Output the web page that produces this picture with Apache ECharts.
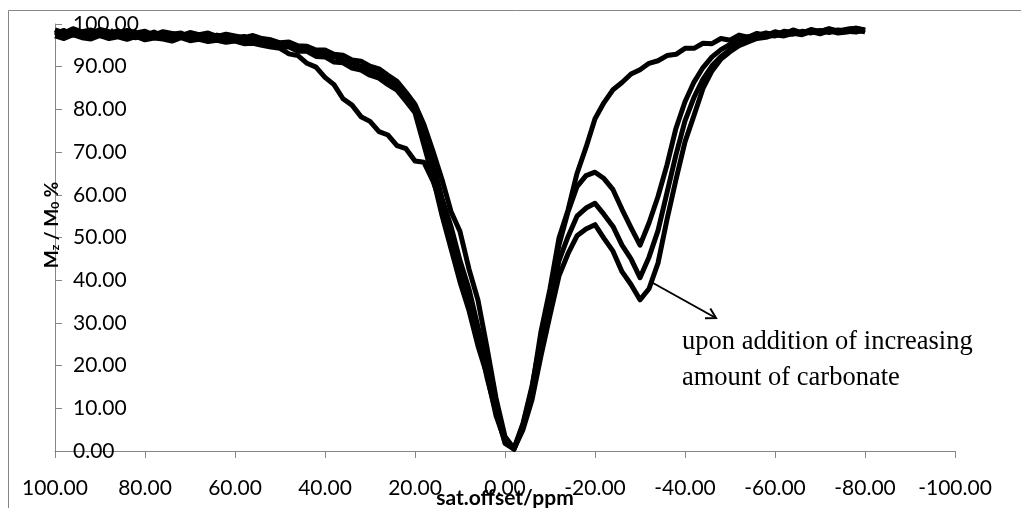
<!DOCTYPE html>
<html>
<head>
<meta charset="utf-8">
<script src="https://cdn.jsdelivr.net/npm/echarts@6/dist/echarts.min.js"></script>
<style>
html,body{margin:0;padding:0;background:#fff;}
#chart{width:1021px;height:508px;}
</style>
</head>
<body>
<div id="chart"></div>
<script>
// saturation offset (ppm)
var ppm = [100,98,96,94,92,90,88,86,84,82,80,78,76,74,72,70,68,66,64,62,60,58,56,54,
52,50,48,46,44,42,40,38,36,34,32,30,28,26,24,22,
20,18,16,14,12,10,8,6,4,2,0,-2,
-4,-6,-8,-10,-12,-14,-16,-18,-20,-22,-24,-26,-28,-30,
-32,-34,-36,-38,-40,-42,-44,-46,-48,-50,
-52,-54,-56,-58,-60,-62,-64,-66,-68,-70,-72,-74,-76,-78,-80];

// Mz/M0 (%) for each spectrum
var seriesB = [98.6,97.9,98.9,98.1,97.7,98.7,98.2,97.6,98.5,97.9,98.3,97.4,98.2,97.8,97.3,98.0,97.5,97.9,97.1,97.6,97.2,96.8,97.3,96.6,
96.3,95.6,95.8,94.9,94.8,93.9,93.9,92.9,92.7,91.6,91.3,90.1,89.5,88.0,86.6,84.0,
81.2,76.4,70.2,63.6,56.1,51.4,42.6,35.3,24.2,12.4,3.4,0.6,
6.5,15.2,26.4,37.0,48.3,56.0,61.9,64.5,65.3,63.8,61.2,56.6,52.3,48.2,
53.4,59.6,67.0,75.6,81.8,86.4,89.8,92.3,94.0,95.2,
96.2,97.0,97.3,97.9,97.4,98.3,98.0,97.8,98.6,98.2,98.8,98.1,98.7,99.0,98.5];

var seriesC = [97.8,98.5,97.4,98.2,98.6,97.5,97.9,98.4,97.3,98.0,97.4,98.1,97.2,97.6,97.9,96.9,97.5,96.9,97.4,96.8,96.7,97.1,96.3,96.5,
95.9,95.5,94.9,94.6,93.9,93.5,92.8,92.4,91.5,90.9,90.1,89.2,88.3,87.0,85.4,83.2,
79.6,74.3,67.5,59.2,52.6,44.6,37.9,29.0,20.8,9.8,2.6,0.5,
5.6,13.2,24.5,34.2,44.6,50.2,55.0,56.9,58.0,55.4,52.6,48.2,45.0,40.6,
45.4,51.6,60.5,69.4,77.3,82.8,87.1,90.2,92.4,94.0,
95.3,96.3,96.8,97.4,97.2,97.9,97.6,98.3,97.9,98.5,98.0,98.6,98.3,98.1,98.7];

var seriesD = [98.1,97.2,97.8,97.0,97.6,97.3,96.9,97.7,97.1,96.8,97.5,96.9,97.3,96.6,97.2,96.7,96.4,97.0,96.3,96.6,96.1,96.5,95.9,95.8,
95.5,94.6,94.6,93.6,93.6,92.4,92.3,91.1,90.9,89.7,89.2,88.0,87.3,85.8,84.5,81.9,
79.2,71.6,64.0,55.2,47.4,39.6,32.9,24.6,17.8,8.3,2.4,0.5,
5.0,12.0,22.3,31.8,41.0,46.2,50.4,52.0,53.0,49.8,46.8,42.0,39.0,35.4,
38.0,44.0,54.2,63.6,72.4,78.6,84.9,89.0,91.8,93.5,
94.9,95.8,96.6,96.9,97.5,97.2,97.8,97.5,98.2,97.7,98.4,97.9,98.1,98.5,98.2];

var seriesE = [97.2,96.6,97.5,96.8,96.5,97.3,96.6,97.0,96.4,97.1,96.3,96.7,96.5,96.0,96.8,96.1,96.4,95.9,96.2,95.7,96.0,95.4,95.5,95.0,
94.6,94.3,93.0,92.6,90.8,89.9,87.5,85.8,82.5,81.0,78.3,77.2,74.8,74.0,71.5,70.8,
67.9,67.6,63.2,57.4,48.8,42.4,34.2,27.3,17.2,9.1,1.8,0.4,
6.2,14.6,28.0,38.0,49.9,56.4,65.0,71.1,77.8,81.6,84.6,86.3,88.3,89.3,
90.8,91.4,92.6,92.9,94.3,94.3,95.5,95.4,96.6,96.2,
97.4,96.9,97.8,97.3,98.2,97.6,98.6,97.9,98.7,98.2,98.9,98.4,98.8,99.0,98.6];

var allSeries = [seriesE, seriesD, seriesC, seriesB];

var chart = echarts.init(document.getElementById('chart'), null, {renderer: 'canvas'});

function pairs(ys) {
  return ppm.map(function (x, i) { return [x, ys[i]]; });
}

var axisFont = 'Lato, "Open Sans", sans-serif';
var gray = '#868686';

var option = {
  animation: false,
  backgroundColor: '#ffffff',
  grid: {left: 55, top: 24, width: 900, height: 427, containLabel: false, outerBoundsMode: 'none'},
  xAxis: {
    type: 'value', min: -100, max: 100, interval: 20, inverse: true,
    axisLine: {onZero: false, lineStyle: {color: gray, width: 1}},
    axisTick: {show: true, inside: false, length: 7, lineStyle: {color: gray}},
    splitLine: {show: false},
    axisLabel: {color: '#000', fontFamily: axisFont, fontSize: 21, margin: 27,
      formatter: function (v) { return v.toFixed(2); }},
    name: 'sat.offset/ppm', nameLocation: 'middle', nameGap: 37, nameMoveOverlap: false,
    nameTextStyle: {color: '#000', fontFamily: axisFont, fontWeight: 'bold', fontSize: 21}
  },
  yAxis: {
    type: 'value', min: 0, max: 100, interval: 10,
    axisLine: {show: true, onZero: false, lineStyle: {color: gray, width: 1}},
    axisTick: {show: true, inside: true, length: 7, lineStyle: {color: gray}},
    splitLine: {show: false},
    axisLabel: {inside: true, margin: 18, color: '#000', fontFamily: axisFont, fontSize: 21,
      formatter: function (v) { return v.toFixed(2); }}
  },
  series: allSeries.map(function (ys) {
    return {
      type: 'line', data: pairs(ys), showSymbol: false, symbol: 'none',
      lineStyle: {color: '#000', width: 5, join: 'round'},
      z: 3
    };
  }),
  graphic: [
    {type: 'rect', shape: {x: 8.5, y: 10.5, width: 1100, height: 600},
      style: {fill: 'none', stroke: gray, lineWidth: 1}, z: -10, silent: true},
    {type: 'text', x: 52, y: 225, rotation: Math.PI / 2,
      style: {text: '{b|M}{s|z}{b| / M}{s|0}{b| %}', align: 'center', verticalAlign: 'middle',
        rich: {
          b: {fontFamily: axisFont, fontWeight: 'bold', fontSize: 19, fill: '#000', verticalAlign: 'bottom'},
          s: {fontFamily: axisFont, fontWeight: 'bold', fontSize: 12, fill: '#000', verticalAlign: 'bottom'}
        }}, z: 20},
    {type: 'line', shape: {x1: 653, y1: 283, x2: 715, y2: 317.5},
      style: {stroke: '#000', lineWidth: 2}, z: 20},
    {type: 'polyline', shape: {points: [[710.3, 308.6], [716, 318], [705, 318.2]]},
      style: {stroke: '#000', lineWidth: 2, fill: null}, z: 20},
    {type: 'text', x: 682, y: 324,
      style: {text: 'upon addition of increasing\namount of carbonate',
        fontFamily: '"Liberation Serif", "Times New Roman", serif', fontSize: 26.5,
        lineHeight: 36, fill: '#000', align: 'left', verticalAlign: 'top'}, z: 20}
  ]
};
chart.setOption(option);
</script>
</body>
</html>
